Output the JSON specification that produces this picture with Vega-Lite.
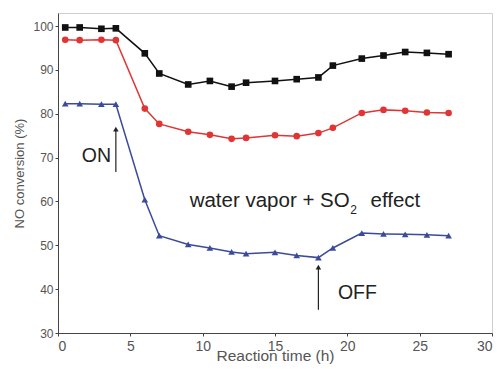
{
  "$schema": "https://vega.github.io/schema/vega-lite/v6.json",
  "width": 434,
  "height": 320,
  "autosize": {"type": "none"},
  "padding": {"left": 58, "top": 13, "right": 8, "bottom": 36},
  "background": "white",
  "config": {
    "font": "Liberation Sans",
    "view": {"stroke": "#cfcfcf", "strokeWidth": 1},
    "axis": {"grid": false, "domainColor": "#444", "tickColor": "#444", "labelColor": "#555", "titleColor": "#555", "labelFontSize": 12, "titleFontSize": 13, "titleFontWeight": "normal", "tickSize": 3}
  },
  "datasets": {
    "series": [
      {"s": "A", "t": 0.5, "v": 99.7}, {"s": "A", "t": 1.5, "v": 99.7}, {"s": "A", "t": 3, "v": 99.4}, {"s": "A", "t": 4, "v": 99.5},
      {"s": "A", "t": 6, "v": 93.8}, {"s": "A", "t": 7, "v": 89.2}, {"s": "A", "t": 9, "v": 86.7}, {"s": "A", "t": 10.5, "v": 87.5},
      {"s": "A", "t": 12, "v": 86.2}, {"s": "A", "t": 13, "v": 87.1}, {"s": "A", "t": 15, "v": 87.5}, {"s": "A", "t": 16.5, "v": 87.9},
      {"s": "A", "t": 18, "v": 88.3}, {"s": "A", "t": 19, "v": 91.0}, {"s": "A", "t": 21, "v": 92.6}, {"s": "A", "t": 22.5, "v": 93.3},
      {"s": "A", "t": 24, "v": 94.1}, {"s": "A", "t": 25.5, "v": 93.9}, {"s": "A", "t": 27, "v": 93.6},
      {"s": "B", "t": 0.5, "v": 96.9}, {"s": "B", "t": 1.5, "v": 96.8}, {"s": "B", "t": 3, "v": 96.9}, {"s": "B", "t": 4, "v": 96.8},
      {"s": "B", "t": 6, "v": 81.2}, {"s": "B", "t": 7, "v": 77.7}, {"s": "B", "t": 9, "v": 75.9}, {"s": "B", "t": 10.5, "v": 75.2},
      {"s": "B", "t": 12, "v": 74.3}, {"s": "B", "t": 13, "v": 74.5}, {"s": "B", "t": 15, "v": 75.1}, {"s": "B", "t": 16.5, "v": 74.9},
      {"s": "B", "t": 18, "v": 75.6}, {"s": "B", "t": 19, "v": 76.8}, {"s": "B", "t": 21, "v": 80.2}, {"s": "B", "t": 22.5, "v": 80.9},
      {"s": "B", "t": 24, "v": 80.7}, {"s": "B", "t": 25.5, "v": 80.3}, {"s": "B", "t": 27, "v": 80.2},
      {"s": "C", "t": 0.5, "v": 82.3}, {"s": "C", "t": 1.5, "v": 82.3}, {"s": "C", "t": 3, "v": 82.2}, {"s": "C", "t": 4, "v": 82.2},
      {"s": "C", "t": 6, "v": 60.4}, {"s": "C", "t": 7, "v": 52.2}, {"s": "C", "t": 9, "v": 50.2}, {"s": "C", "t": 10.5, "v": 49.4},
      {"s": "C", "t": 12, "v": 48.5}, {"s": "C", "t": 13, "v": 48.1}, {"s": "C", "t": 15, "v": 48.4}, {"s": "C", "t": 16.5, "v": 47.7},
      {"s": "C", "t": 18, "v": 47.2}, {"s": "C", "t": 19, "v": 49.4}, {"s": "C", "t": 21, "v": 52.8}, {"s": "C", "t": 22.5, "v": 52.6},
      {"s": "C", "t": 24, "v": 52.5}, {"s": "C", "t": 25.5, "v": 52.4}, {"s": "C", "t": 27, "v": 52.2}
    ],
    "arrows": [
      {"t": 4, "y1": 66.7, "y2": 76.5},
      {"t": 18, "y1": 35.3, "y2": 45.0}
    ],
    "texts": [
      {"t": 1.65, "v": 70.4, "txt": "ON", "size": 19.5},
      {"t": 19.35, "v": 39.2, "txt": "OFF", "size": 19.5},
      {"t": 9.1, "v": 60.1, "txt": "water vapor + SO", "size": 20.5},
      {"t": 20.2, "v": 58.0, "txt": "2", "size": 12},
      {"t": 21.6, "v": 60.1, "txt": "effect", "size": 20.5}
    ]
  },
  "layer": [
    {
      "data": {"name": "series"},
      "mark": {"type": "line", "strokeWidth": 1.5},
      "encoding": {
        "x": {"field": "t", "type": "quantitative", "scale": {"domain": [0, 30], "nice": false},
              "axis": {"values": [0, 2.5, 5, 7.5, 10, 12.5, 15, 17.5, 20, 22.5, 25, 27.5, 30], "labelExpr": "datum.value % 5 === 0 ? datum.label : ''", "labelFontSize": 14, "labelPadding": 3, "title": "Reaction time (h)", "titleFontSize": 15.5, "titlePadding": -5}},
        "y": {"field": "v", "type": "quantitative", "scale": {"domain": [30, 103], "nice": false, "zero": false},
              "axis": {"values": [30, 35, 40, 45, 50, 55, 60, 65, 70, 75, 80, 85, 90, 95, 100], "labelExpr": "datum.value % 10 === 0 ? datum.label : ''", "title": "NO conversion (%)", "titlePadding": 6}},
        "color": {"field": "s", "type": "nominal", "scale": {"domain": ["A", "B", "C"], "range": ["#111111", "#e03535", "#3b4b9c"]}, "legend": null},
        "detail": {"field": "s"}
      }
    },
    {
      "data": {"name": "series"},
      "mark": {"type": "point", "filled": true, "opacity": 1},
      "encoding": {
        "x": {"field": "t", "type": "quantitative"},
        "y": {"field": "v", "type": "quantitative"},
        "color": {"field": "s", "type": "nominal", "legend": null},
        "shape": {"field": "s", "type": "nominal", "scale": {"domain": ["A", "B", "C"], "range": ["square", "circle", "triangle-up"]}, "legend": null},
        "size": {"value": 44}
      }
    },
    {
      "data": {"name": "arrows"},
      "mark": {"type": "rule", "color": "#222", "strokeWidth": 1.2},
      "encoding": {
        "x": {"field": "t", "type": "quantitative"},
        "y": {"field": "y1", "type": "quantitative"},
        "y2": {"field": "y2"}
      }
    },
    {
      "data": {"name": "arrows"},
      "mark": {"type": "point", "shape": "triangle-up", "filled": true, "color": "#222", "size": 30, "opacity": 1},
      "encoding": {
        "x": {"field": "t", "type": "quantitative"},
        "y": {"field": "y2", "type": "quantitative"}
      }
    },
    {
      "data": {"name": "texts"},
      "mark": {"type": "text", "color": "#222", "align": "left", "baseline": "middle"},
      "encoding": {
        "x": {"field": "t", "type": "quantitative"},
        "y": {"field": "v", "type": "quantitative"},
        "text": {"field": "txt"},
        "size": {"field": "size", "type": "quantitative", "scale": null}
      }
    }
  ]
}
